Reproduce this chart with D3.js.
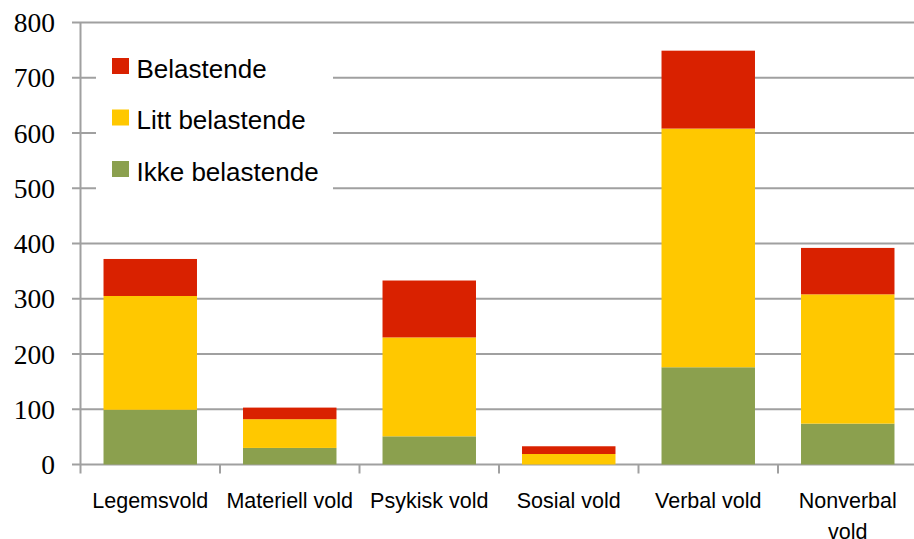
<!DOCTYPE html>
<html>
<head>
<meta charset="utf-8">
<script src="https://cdn.jsdelivr.net/npm/d3@7"></script>
<style>
  html, body { margin: 0; padding: 0; background: #fff; }
  svg { display: block; }
</style>
</head>
<body>
<svg id="chart" width="914" height="539"></svg>
<script>
const categories = ["Legemsvold", "Materiell vold", "Psykisk vold", "Sosial vold", "Verbal vold", "Nonverbal vold"];
const seriesNames = ["Ikke belastende", "Litt belastende", "Belastende"];
const ikkeBelastende = [99, 30, 51, 0, 176, 74];
const littBelastende = [206, 52, 179, 19, 432, 234];
const belastende = [67, 21, 103, 14, 141, 84];
const yTicks = [0, 100, 200, 300, 400, 500, 600, 700, 800];
const legendOrder = ["Belastende", "Litt belastende", "Ikke belastende"];
const colors = { "Ikke belastende": "#8BA04E", "Litt belastende": "#FFC800", "Belastende": "#D92100" };

const rows = categories.map((c, i) => ({
  cat: c,
  "Ikke belastende": ikkeBelastende[i],
  "Litt belastende": littBelastende[i],
  "Belastende": belastende[i]
}));

const svg = d3.select("#chart");
const left = 80.5, bandW = 139.5;
const x = d3.scaleBand().domain(categories).range([left, left + bandW * categories.length]).paddingInner(0.33).paddingOuter(0.165);
const y = d3.scaleLinear().domain([0, 800]).range([464.5, 22.5]);
const gridColor = "#A0A0A0";

// gridlines
svg.append("g").selectAll("line").data(yTicks).join("line")
  .attr("x1", 72).attr("x2", 914)
  .attr("y1", d => y(d)).attr("y2", d => y(d))
  .attr("stroke", gridColor).attr("stroke-width", 2);

// y axis line
svg.append("line").attr("x1", left).attr("x2", left).attr("y1", y(800)).attr("y2", y(0) + 9)
  .attr("stroke", gridColor).attr("stroke-width", 2);

// x ticks at band boundaries
const bounds = d3.range(1, categories.length + 1).map(i => left + i * bandW);
svg.append("g").selectAll("line").data(bounds).join("line")
  .attr("x1", d => d).attr("x2", d => d).attr("y1", y(0)).attr("y2", y(0) + 9)
  .attr("stroke", gridColor).attr("stroke-width", 2);

// y labels
svg.append("g").selectAll("text").data(yTicks).join("text")
  .attr("x", 55).attr("y", d => y(d)).attr("dy", "0.35em")
  .attr("text-anchor", "end")
  .attr("font-family", "'Liberation Serif', 'Times New Roman', serif")
  .attr("font-size", 27.5).attr("fill", "#000")
  .text(d => d);

// bars
const stack = d3.stack().keys(seriesNames);
const stacked = stack(rows);
svg.append("g").selectAll("g").data(stacked).join("g")
  .attr("fill", d => colors[d.key])
  .selectAll("rect").data(d => d).join("rect")
  .attr("x", d => x(d.data.cat))
  .attr("width", x.bandwidth())
  .attr("y", d => y(d[1]))
  .attr("height", d => Math.max(0, y(d[0]) - y(d[1])));

// x labels
const xl = svg.append("g").attr("font-family", "'Liberation Sans', Arial, sans-serif").attr("font-size", 21.5).attr("fill", "#000");
categories.forEach(c => {
  const cx = x(c) + x.bandwidth() / 2;
  const lines = c === "Nonverbal vold" ? ["Nonverbal", "vold"] : [c];
  const t = xl.append("text").attr("text-anchor", "middle");
  lines.forEach((ln, j) => {
    t.append("tspan").attr("x", cx).attr("y", 508 + j * 31).text(ln);
  });
});

// legend
const lg = svg.append("g");
lg.append("rect").attr("x", 96).attr("y", 42).attr("width", 237).attr("height", 156).attr("fill", "#fff");
legendOrder.forEach((name, i) => {
  const cy = 66 + i * 51.5;
  lg.append("rect").attr("x", 112).attr("y", cy - 8).attr("width", 17).attr("height", 16).attr("fill", colors[name]);
  lg.append("text").attr("x", 136.5).attr("y", cy + 2.5).attr("dy", "0.36em")
    .attr("font-family", "'Liberation Sans', Arial, sans-serif").attr("font-size", 26).attr("fill", "#000")
    .text(name);
});
</script>
</body>
</html>
